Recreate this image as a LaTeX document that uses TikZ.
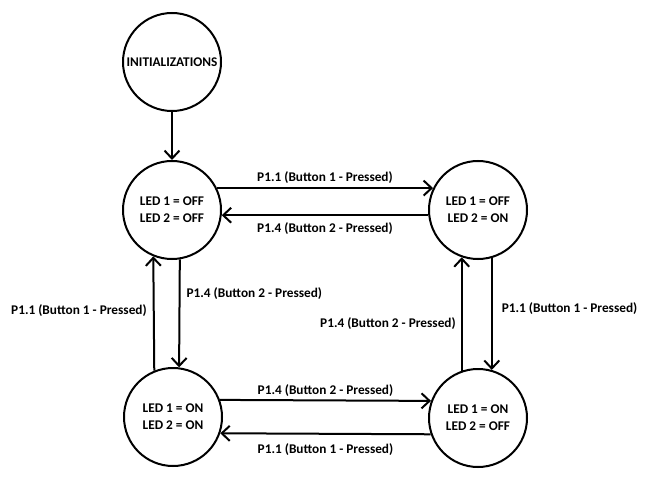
\documentclass[tikz,border=0pt]{standalone}
\usepackage{fontspec}
\setmainfont{Carlito}
\usetikzlibrary{arrows.meta}
\begin{document}
\begin{tikzpicture}[x=1bp,y=-1bp,
  every node/.style={font=\bfseries\fontsize{13.3bp}{17bp}\selectfont, text=black},
  state/.style={circle, draw=black, line width=2bp, minimum size=98bp, inner sep=0pt, align=center},
  trans/.style={draw=black, line width=2bp, -{Straight Barb[length=8bp, width=15bp, line width=2bp]}},
  lbl/.style={inner sep=3bp}
]
\fill[white] (0,0) rectangle (649,487);
\useasboundingbox (0,0) rectangle (649,487);

% states
\node[state] (init) at (172,62) {INITIALIZATIONS};
\node[state] (s00) at (172,210) {LED 1 = OFF\\LED 2 = OFF};
\node[state] (s01) at (478,210) {LED 1 = OFF\\LED 2 = ON};
\node[state] (s11) at (173,417) {LED 1 = ON\\LED 2 = ON};
\node[state] (s10) at (478,418) {LED 1 = ON\\LED 2 = OFF};

% start
\draw[trans] (init.south) -- (s00.north);

% top pair
\draw[trans] (s00.26) -- (s01.154) node[lbl, midway, above, yshift=1bp] (t1) {P1.1 (Button 1 - Pressed)};
\draw[trans] (s01.-174) -- (s00.-6) node[lbl, midway, below, yshift=-3bp] (t2) {P1.4 (Button 2 - Pressed)};

% bottom pair
\draw[trans] (s11.20) -- (s10.160) node[lbl, midway, above] (t3) {P1.4 (Button 2 - Pressed)};
\draw[trans] (s10.-161) -- (s11.-19) node[lbl, midway, below, yshift=-6bp] (t4) {P1.1 (Button 1 - Pressed)};

% left pair
\draw[trans] (s11.112) -- (s00.248) node[lbl, pos=0.53, left, xshift=-3bp] (t5) {P1.1 (Button 1 - Pressed)};
\draw[trans] (s00.279) -- (s11.83) node[lbl, pos=0.32, right, xshift=3bp] (t6) {P1.4 (Button 2 - Pressed)};

% right pair
\draw[trans] (s10.109) -- (s01.251) node[lbl, pos=0.42, left, xshift=-2bp] (t7) {P1.4 (Button 2 - Pressed)};
\draw[trans] (s01.286) -- (s10.74) node[lbl, pos=0.45, right, xshift=6bp] (t8) {P1.1 (Button 1 - Pressed)};
\end{tikzpicture}
\end{document}
